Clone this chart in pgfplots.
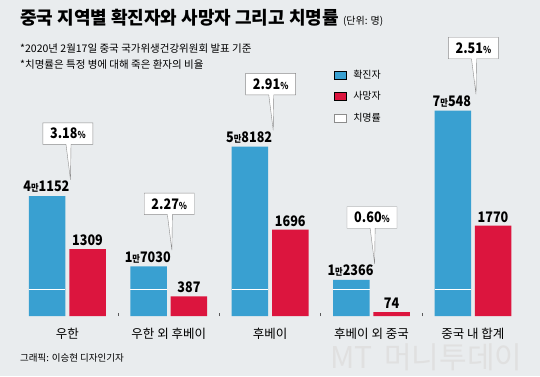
\documentclass[border=0pt]{standalone}
\usepackage{pgfplots}
\pgfplotsset{compat=1.18}
\usetikzlibrary{shapes.callouts}
\usepackage{fontspec}
\setmainfont{Noto Sans CJK KR}
\newfontfamily\numf[FakeStretch=0.87]{Noto Sans CJK KR}
\definecolor{bg}{RGB}{233,236,238}
\definecolor{cblue}{RGB}{57,160,209}
\definecolor{cred}{RGB}{220,21,62}
\newcommand{\man}{{\fontsize{9.5}{10}\selectfont 만}}
\newcommand{\pct}{{\fontsize{9.5}{10}\selectfont\%}}
\begin{document}
\begin{tikzpicture}
\fill[bg] (0,0) rectangle (540pt,376pt);
\useasboundingbox (0,0) rectangle (540pt,376pt);
% watermark
\node[anchor=base west, text=black!12, inner sep=0pt] at (330pt,8pt) {\fontsize{30}{30}\selectfont\itshape MT\, \upshape 머니투데이};
% blue axis
\begin{axis}[at={(0pt,60pt)}, anchor=south west, scale only axis,
  width=540pt, height=216pt,
  xmin=-0.6648, xmax=4.6620, ymin=0, ymax=74170, clip=false,
  axis line style={draw=none}, ytick=\empty,
  xtick={0,...,4},
  xticklabels={우한,우한 외 후베이,후베이,후베이 외 중국,중국 내 합계},
  tick pos=left, tick align=inside, major tick length=0pt,
  xticklabel style={anchor=base, yshift=-22pt, inner sep=0pt, font=\fontsize{12.5}{13}\selectfont},
  extra x ticks={0.5,1.5,2.5,3.5}, extra x tick labels={},
  extra x tick style={major tick length=3.5pt, tick style={draw=black!65, line width=0.8pt}},
  legend image code/.code={\draw[#1] (0pt,-4pt) rectangle (11.4pt,4pt);},
  legend style={at={(0.619,1.139)}, anchor=north west, draw=none, fill=none,
    inner sep=0pt, row sep=11.5pt, column sep=7pt,
    nodes={inner sep=0pt, text height=8pt, text depth=2pt},
    font=\fontsize{10}{12}\selectfont},
  legend cell align=left,
]
\addlegendimage{fill=cblue, draw=none}
\addlegendentry{확진자}
\addlegendimage{fill=cred, draw=none}
\addlegendentry{사망자}
\addlegendimage{fill=white, draw=black!45}
\addlegendentry{치명률}
\addplot[forget plot, ybar, bar width=36.5pt, bar shift=-20.15pt, fill=cblue, draw=none,
  point meta=explicit symbolic, nodes near coords,
  every node near coord/.style={font=\numf\bfseries\fontsize{14.5}{15}\selectfont, anchor=south, xshift=-21pt, yshift=4pt, inner sep=0pt, text depth=0pt}]
  coordinates {(0,41152) [4\man{}1152] (1,17030) [1\man{}7030] (2,58182) [5\man{}8182] (3,12366) [1\man{}2366] (4,70548) [7\man{}548]};
\pgfplotsinvokeforeach{0,...,4}{
  \draw[white, line width=0.9pt] ([xshift=-38.4pt]axis cs:#1,9100) -- ([xshift=-1.9pt]axis cs:#1,9100);
}
\addplot[forget plot, draw=none, point meta=explicit symbolic, nodes near coords,
  every node near coord/.style={rectangle callout, draw=black!45, fill=white,
    minimum width=50pt, minimum height=21.5pt, inner sep=0pt, outer sep=0pt,
    anchor=south, xshift=0.5pt, yshift=51.75pt, callout relative pointer={(2pt,-35.5pt)},
    callout pointer width=5pt, font=\numf\bfseries\fontsize{14.5}{15}\selectfont}]
  coordinates {(0,41152) [3.18\pct] (1,17030) [2.27\pct] (2,58182) [2.91\pct] (3,12366) [0.60\pct] (4,70548) [2.51\pct]};
\end{axis}
% red axis
\begin{axis}[at={(0pt,60pt)}, anchor=south west, scale only axis,
  width=540pt, height=216pt,
  xmin=-0.6648, xmax=4.6620, ymin=0, ymax=4235, clip=false, hide axis]
\addplot[ybar, bar width=36.5pt, bar shift=20.15pt, fill=cred, draw=none,
  point meta=explicit symbolic, nodes near coords,
  every node near coord/.style={font=\numf\bfseries\fontsize{14.5}{15}\selectfont, anchor=south, xshift=20.15pt, yshift=3.3pt, inner sep=0pt, text depth=0pt}]
  coordinates {(0,1309) [1309] (1,387) [387] (2,1696) [1696] (3,74) [74] (4,1770) [1770]};
\end{axis}
% texts
\node[anchor=base west, inner sep=0pt] at (20pt,352pt) {\fontsize{18}{18}\selectfont\bfseries 중국 지역별 확진자와 사망자 그리고 치명률\ {\fontsize{10}{10}\selectfont\mdseries (단위: 명)}};
\node[anchor=base west, inner sep=0pt] at (20pt,323.5pt) {\fontsize{10.5}{11}\selectfont *2020년 2월17일 중국 국가위생건강위원회 발표 기준};
\node[anchor=base west, inner sep=0pt] at (20pt,307.5pt) {\fontsize{10.5}{11}\selectfont *치명률은 특정 병에 대해 죽은 환자의 비율};
\node[anchor=base west, inner sep=0pt] at (20pt,15pt) {\fontsize{9.5}{10}\selectfont 그래픽: 이승현 디자인기자};
\end{tikzpicture}
\end{document}
